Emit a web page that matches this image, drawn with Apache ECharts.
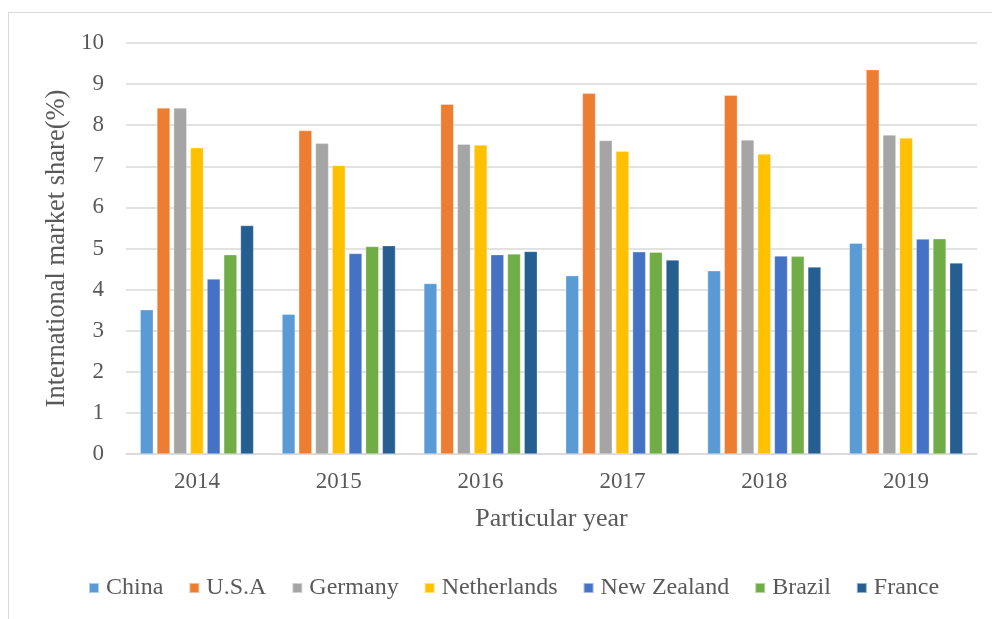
<!DOCTYPE html>
<html>
<head>
<meta charset="utf-8">
<script src="https://cdn.jsdelivr.net/npm/echarts@6/dist/echarts.min.js"></script>
<style>
  html, body { margin: 0; padding: 0; background: #fff; }
  #frame {
    position: absolute; left: 8px; top: 12px; width: 990px; height: 620px;
    border-top: 1px solid #d9d9d9; border-left: 1px solid #d9d9d9;
  }
  #chart { position: absolute; left: 0; top: 0; width: 992px; height: 619px; }
</style>
</head>
<body>
<div id="frame"></div>
<div id="chart"></div>
<script>
// years on the x axis
const years = ['2014', '2015', '2016', '2017', '2018', '2019'];

// market share per country (%)
const china       = [3.51, 3.40, 4.15, 4.34, 4.46, 5.13];
const usa         = [8.42, 7.87, 8.51, 8.78, 8.73, 9.35];
const germany     = [8.42, 7.56, 7.54, 7.63, 7.64, 7.76];
const netherlands = [7.45, 7.02, 7.52, 7.37, 7.30, 7.69];
const newZealand  = [4.26, 4.88, 4.85, 4.92, 4.82, 5.23];
const brazil      = [4.85, 5.05, 4.87, 4.91, 4.81, 5.24];
const france      = [5.56, 5.07, 4.93, 4.72, 4.55, 4.65];

const seriesNames = ['China', 'U.S.A', 'Germany', 'Netherlands', 'New Zealand', 'Brazil', 'France'];
const seriesData = [china, usa, germany, netherlands, newZealand, brazil, france];
const colors = ['#5B9BD5', '#ED7D31', '#A5A5A5', '#FFC000', '#4472C4', '#70AD47', '#255E91'];

const font = 'Liberation Serif';
const textColor = '#595959';

let chart = echarts.init(document.getElementById('chart'));
chart.setOption({
  animation: false,
  color: colors,
  textStyle: { fontFamily: font },
  grid: { left: 126, right: 15, top: 43, bottom: 165 },
  legend: {
    bottom: 14,
    left: 83,
    itemWidth: 10,
    itemHeight: 10,
    itemGap: 25,
    icon: 'rect',
    textStyle: { fontFamily: font, fontSize: 24, color: textColor, padding: [0, 0, 0, 2] },
    data: seriesNames
  },
  xAxis: {
    type: 'category',
    data: years,
    name: 'Particular year',
    nameLocation: 'middle',
    nameGap: 52,
    nameTextStyle: { fontFamily: font, fontSize: 26, color: textColor },
    axisLine: { lineStyle: { color: '#d9d9d9', width: 1.5 } },
    axisTick: { show: false },
    axisLabel: { fontFamily: font, fontSize: 23, color: textColor, margin: 16 }
  },
  yAxis: {
    type: 'value',
    min: 0,
    max: 10,
    interval: 1,
    name: 'International market share(%)',
    nameLocation: 'middle',
    nameGap: 54,
    nameTextStyle: { fontFamily: font, fontSize: 26.5, color: textColor },
    axisLine: { show: false },
    axisTick: { show: false },
    axisLabel: { fontFamily: font, fontSize: 23, color: textColor, margin: 22 },
    splitLine: { lineStyle: { color: '#d9d9d9', width: 1.5 } }
  },
  series: seriesNames.map((name, i) => ({
    name: name,
    type: 'bar',
    data: seriesData[i],
    barGap: '27%',
    barCategoryGap: '20%',
    itemStyle: { borderColor: 'rgba(255,255,255,0.5)', borderWidth: 0.6 }
  }))
});
</script>
</body>
</html>
